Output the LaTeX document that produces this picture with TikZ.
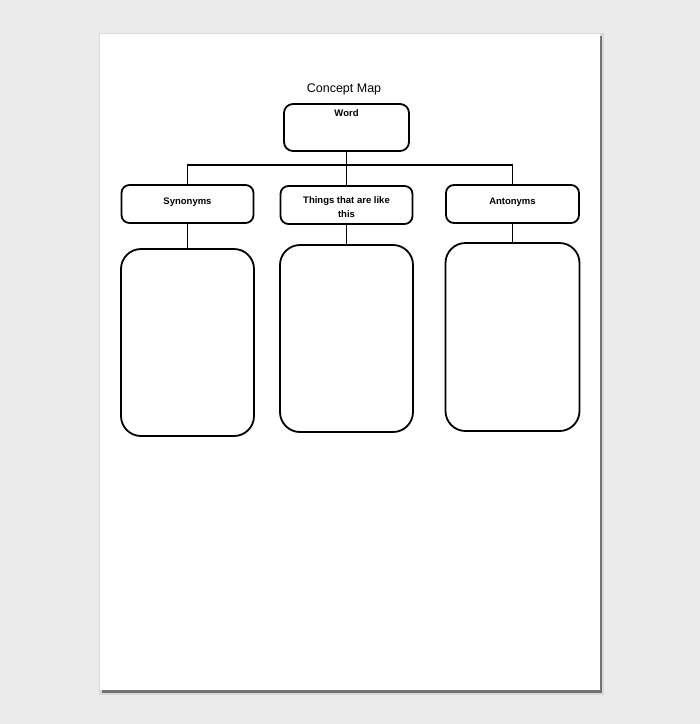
\documentclass[tikz,border=0pt]{standalone}
\usepackage{fontspec}
\setmainfont{Liberation Sans}
\usetikzlibrary{positioning,calc}
\definecolor{backgr}{HTML}{EBEBEB}
\def\fondo{(0,0) rectangle (700,724)}
\def\hoja{(100,34) rectangle (600,690)}
\def\sombra{(101.5,36) rectangle (602,692.5)}
\def\sombrab{(99,33) rectangle (604,695)}
\begin{document}
\begin{tikzpicture}[x=1pt,y=-1pt,line width=1.8pt,
  every node/.style={font=\fontsize{9.5}{14}\selectfont\bfseries},
  caja/.style={draw,rounded corners=8pt,minimum width=132pt,minimum height=38pt,align=center},
  grande/.style={draw,rounded corners=20pt,minimum width=133pt,minimum height=187pt}]
      \fill[backgr] \fondo;
      \fill[black!15] \sombrab;
      \fill[black!55] \sombra;
      \fill[white] \hoja;
   \node[font=\fontsize{12.5}{14}\selectfont] (title) at (344,89) {Concept Map};
   \node[draw,rounded corners=9pt,minimum width=125pt,minimum height=47pt,text height=7pt,text depth=29pt] (word) at (346.5,127.5) {Word};
   \node[caja,text height=7pt,text depth=7pt] (syn) at (187.5,204) {Synonyms};
   \node[caja,text height=27pt,text depth=2pt] (mid) at (346.5,205) {Things that are like\\this};
   \node[caja,text height=7pt,text depth=7pt,minimum width=133pt] (ant) at (512.5,204) {Antonyms};
   \node[grande] (synbig) at (187.5,342.5) {};
   \node[grande] (midbig) at (346.5,338.5) {};
   \node[grande,minimum width=134pt,minimum height=188pt] (antbig) at (512.5,337) {};
   \coordinate (bus) at (346.5,165);
      \draw (word.south) -- (mid.north);
      \draw (syn.north) -- (syn.north |- bus) -- (ant.north |- bus) -- (ant.north);
      \draw (syn.south) -- (synbig.north);
      \draw (mid.south) -- (midbig.north);
      \draw (ant.south) -- (antbig.north);
         \end{tikzpicture}
\end{document}
